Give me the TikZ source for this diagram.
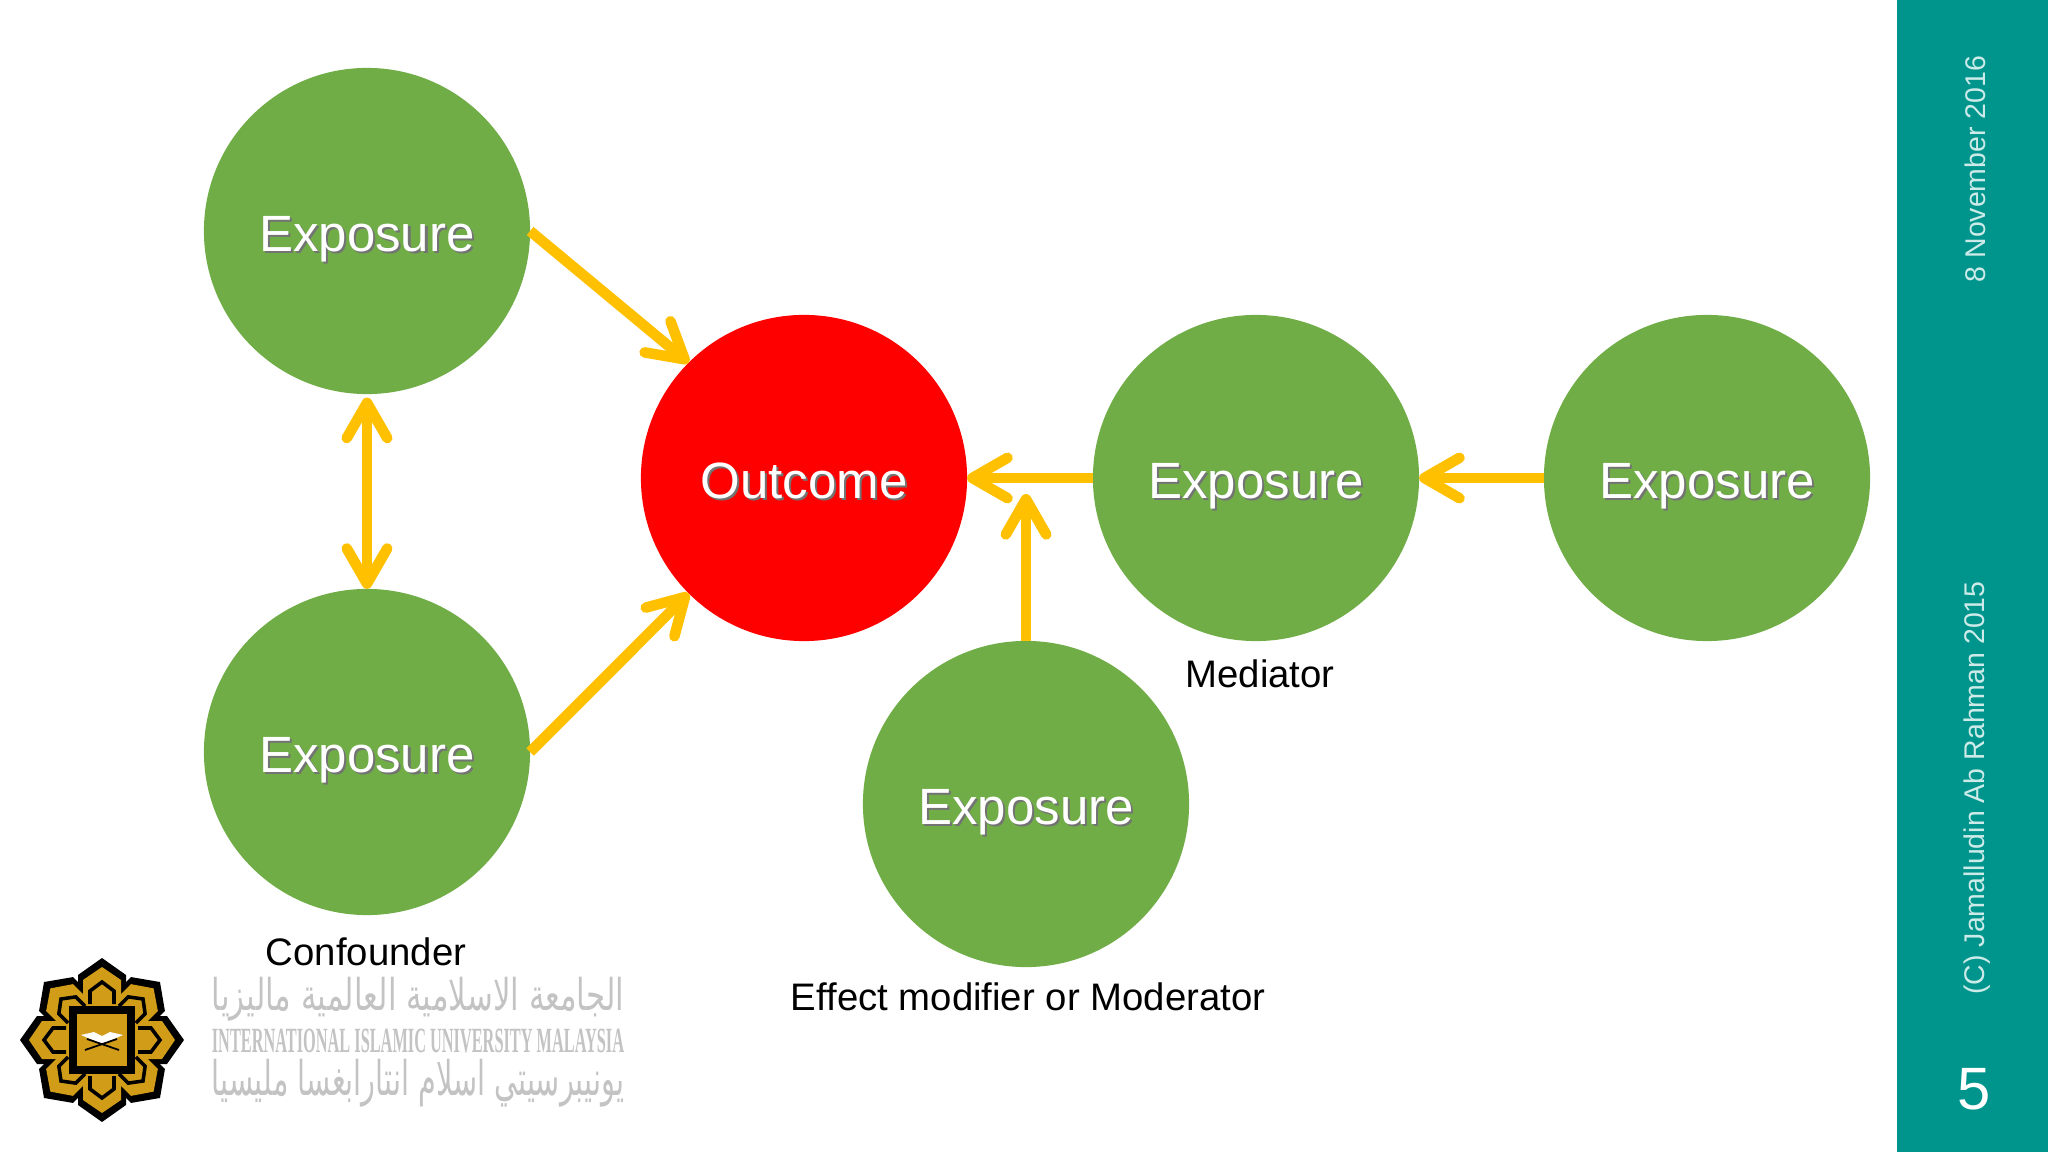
\documentclass[tikz,border=0pt]{standalone}
\usepackage{fontspec}
\setmainfont{Liberation Sans}
\newfontfamily\arabicfont[Script=Arabic]{DejaVu Sans}
\newfontfamily\crestfont{Liberation Serif}
\TeXXeTstate=1
\usetikzlibrary{arrows.meta}
\definecolor{expgreen}{RGB}{112,173,71}
\definecolor{linkyellow}{RGB}{255,192,0}
\definecolor{barteal}{RGB}{0,149,140}
\definecolor{crestgold}{RGB}{209,156,24}
\definecolor{crestgrey}{RGB}{195,195,195}
\newcommand{\shadowed}[1]{\makebox[0pt][l]{\hspace{0.6pt}\raisebox{-0.6pt}{\textcolor{black!55}{#1}}}#1}

\begin{document}
\begin{tikzpicture}[x=0.01cm,y=-0.01cm]
\tikzstyle{blob}=[
	circle,
	minimum size=3.26cm,
	inner sep=0pt,
	outer sep=0pt,
	text=white,
	text height=11.4pt,
	text depth=0pt,
	font=\fontsize{14.5}{17}\selectfont ]
\tikzstyle{exposure}=[blob,fill=expgreen]
\tikzstyle{outcome}=[blob,fill=red]
\tikzstyle{link}=[
	draw=linkyellow,
	line width=3pt,
	-{Straight Barb[length=10pt,width=11.5pt,round]} ]
\tikzstyle{caption}=[inner sep=0pt,font=\fontsize{10.9}{13}\selectfont]
\tikzstyle{barlabel}=[inner sep=0pt,rotate=90,text=white!80!barteal,font=\fontsize{8.1}{10}\selectfont]
\tikzstyle{crestline}=[inner sep=0pt,text=crestgrey]
\useasboundingbox (0,0) rectangle (2048,1152);
\fill[barteal] (1897,0) rectangle (2048,1152);

\node[exposure] (expTop) at (367,231) {\shadowed{Exposure}};
\node[exposure] (expBottom) at (367,752) {\shadowed{Exposure}};
\node[outcome] (outcome) at (804,478) {\shadowed{Outcome}};
\node[exposure] (expMediator) at (1256,478) {\shadowed{Exposure}};
\node[exposure] (expFar) at (1707,478) {\shadowed{Exposure}};
\node[exposure] (expModerator) at (1026,804) {\shadowed{Exposure}};
\coordinate (modifierEnd) at (1026,494);

\draw[link] (expTop.east) -- (outcome.135);
\draw[link] (expBottom.east) -- (outcome.225);
\draw[link,{Straight Barb[length=10pt,width=11.5pt,round]}-{Straight Barb[length=10pt,width=11.5pt,round]},shorten <=1pt] (expTop.south) -- (expBottom.north);
\draw[link] (expMediator.west) -- (outcome.east);
\draw[link] (expFar.west) -- (expMediator.east);
\draw[link] (expModerator.north) -- (modifierEnd);

\node[caption] (labelConfounder) at (366,952) {Confounder};
\node[caption] (labelMediator) at (1260,674) {Mediator};
\node[caption] (labelModifier) at (1028,997) {Effect modifier or Moderator};

\node[barlabel] (labelDate) at (1975,169) {8 November 2016};
\node[barlabel] (labelOwner) at (1977,788) {(C) Jamalludin Ab Rahman 2015};
\node[inner sep=0pt,text=white,font=\fontsize{17}{20}\selectfont] (labelPage) at (1974,1089) {5};

% crest
\begin{scope}[shift={(102,1040)}]
	\foreach \a in {0,45,...,315}
		\fill[black,rotate=\a] (0,-82) -- (24,-65) -- (24,-25) -- (-24,-25) -- (-24,-65) -- cycle;
	\foreach \a in {0,45,...,315}
		\fill[crestgold,rotate=\a] (0,-73) -- (19,-60) -- (19,-25) -- (-19,-25) -- (-19,-60) -- cycle;
	\foreach \a in {0,45,...,315}
		\draw[black,line width=1pt,rotate=\a] (-12,-36) -- (-12,-49) -- (0,-58) -- (12,-49) -- (12,-36);
	\fill[black] (-33,-34) rectangle (33,34);
	\fill[crestgold] (-25,-26) rectangle (25,26);
	\fill[white] (-21,-5) -- (-8,-8) -- (0,-4) -- (8,-8) -- (21,-5) -- (0,4) -- cycle;
	\draw[black,line width=0.5pt] (-17,10) -- (15,-1) (17,10) -- (-15,-1);
\end{scope}

\node[crestline] (crestArabic) at (418,999) {\resizebox*{4.12cm}{0.44cm}{\arabicfont\beginR الجامعة الاسلامية العالمية ماليزيا\endR}};
\node[crestline] (crestLatin) at (418,1041) {\resizebox*{4.12cm}{0.24cm}{\crestfont\bfseries INTERNATIONAL ISLAMIC UNIVERSITY MALAYSIA}};
\node[crestline] (crestMalay) at (418,1083) {\resizebox*{4.12cm}{0.48cm}{\arabicfont\beginR يونيبرسيتي اسلام انتارابغسا مليسيا\endR}};
\end{tikzpicture}
\end{document}
